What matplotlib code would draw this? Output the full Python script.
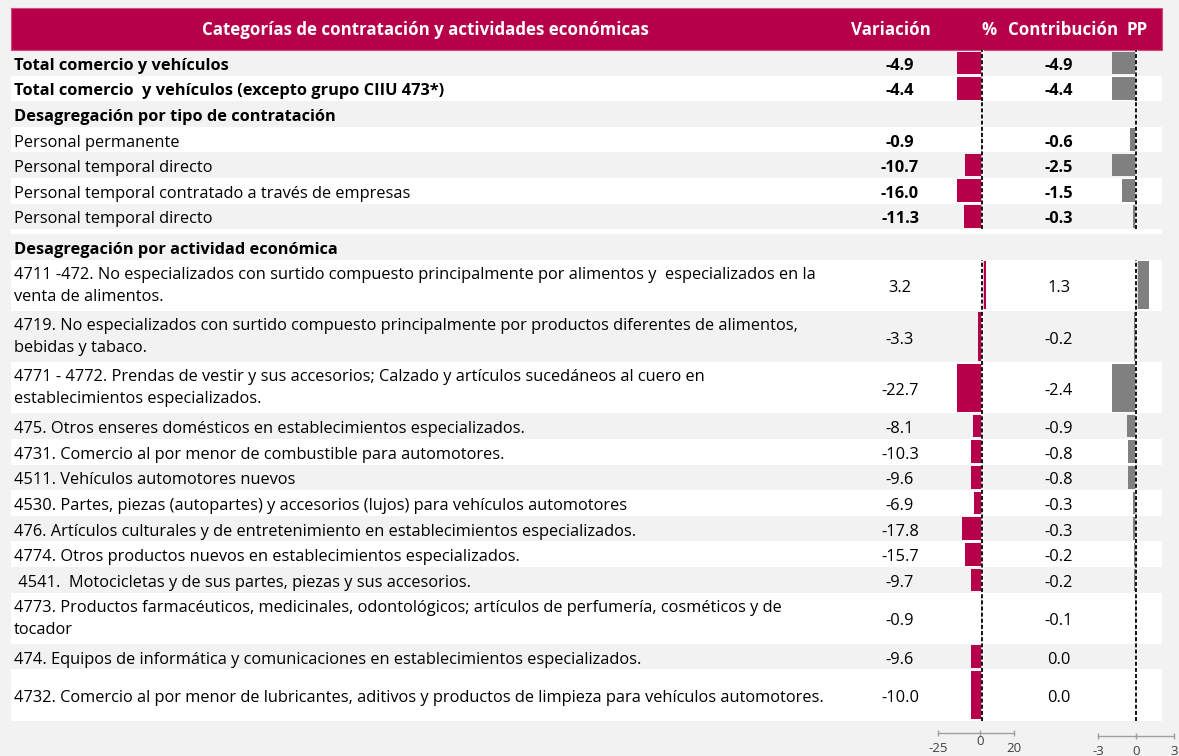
import matplotlib
matplotlib.use("Agg")
import matplotlib.pyplot as plt
from matplotlib.patches import Rectangle

# ---------------- data ----------------
header_title = "Categorías de contratación y actividades económicas"
header_var = "Variación"
header_pct = "%"
header_contrib = "Contribución"
header_pp = "PP"

total_labels = ["Total comercio y vehículos",
                "Total comercio  y vehículos (excepto grupo CIIU 473*)"]
total_var = [-4.9, -4.4]
total_pp = [-4.9, -4.4]

section1 = "Desagregación por tipo de contratación"
contract_labels = ["Personal permanente",
                   "Personal temporal directo",
                   "Personal temporal contratado a través de empresas",
                   "Personal temporal directo"]
contract_var = [-0.9, -10.7, -16.0, -11.3]
contract_pp = [-0.6, -2.5, -1.5, -0.3]

section2 = "Desagregación por actividad económica"
activity_labels = [
    "4711 -472. No especializados con surtido compuesto principalmente por alimentos y  especializados en la\nventa de alimentos.",
    "4719. No especializados con surtido compuesto principalmente por productos diferentes de alimentos,\nbebidas y tabaco.",
    "4771 - 4772. Prendas de vestir y sus accesorios; Calzado y artículos sucedáneos al cuero en\nestablecimientos especializados.",
    "475. Otros enseres domésticos en establecimientos especializados.",
    "4731. Comercio al por menor de combustible para automotores.",
    "4511. Vehículos automotores nuevos",
    "4530. Partes, piezas (autopartes) y accesorios (lujos) para vehículos automotores",
    "476. Artículos culturales y de entretenimiento en establecimientos especializados.",
    "4774. Otros productos nuevos en establecimientos especializados.",
    " 4541.  Motocicletas y de sus partes, piezas y sus accesorios.",
    "4773. Productos farmacéuticos, medicinales, odontológicos; artículos de perfumería, cosméticos y de\ntocador",
    "474. Equipos de informática y comunicaciones en establecimientos especializados.",
    "4732. Comercio al por menor de lubricantes, aditivos y productos de limpieza para vehículos automotores.",
]
activity_var = [3.2, -3.3, -22.7, -8.1, -10.3, -9.6, -6.9, -17.8, -15.7, -9.7, -0.9, -9.6, -10.0]
activity_pp = [1.3, -0.2, -2.4, -0.9, -0.8, -0.8, -0.3, -0.3, -0.2, -0.2, -0.1, 0.0, 0.0]

var_axis_ticks = [-25, 0, 20]
pp_axis_ticks = [-3, 0, 3]

# ---------------- style / layout ----------------
W, H = 1179, 756
BG = "#F2F2F2"
CRIMSON = "#B7004A"
GRAYBAR = "#808080"
FONT = "Open Sans"
plt.rcParams["font.family"] = [FONT, "DejaVu Sans"]

fig = plt.figure(figsize=(W / 100, H / 100), dpi=100, facecolor=BG)
ax0 = fig.add_axes([0, 0, 1, 1])
ax0.set_xlim(0, W)
ax0.set_ylim(H, 0)
ax0.axis("off")

# fit font size to reference text width
renderer = fig.canvas.get_renderer()
probe = ax0.text(0, 0, "Personal temporal contratado a través de empresas", fontsize=10)
wpx = probe.get_window_extent(renderer).width
probe.remove()
FS = 10 * 395.0 / wpx
probe = ax0.text(0, 0, header_title, fontsize=10, fontweight="bold")
wpx = probe.get_window_extent(renderer).width
probe.remove()
FSH = 10 * 445.0 / wpx

LEFT, RIGHT = 11, 1162
U = 25.6  # single row height in px
DY = 3.0  # text offset (Excel bottom-ish alignment)

y = 50.0
def add_row(h, white):
    global y
    top = y
    y += h
    if white:
        ax0.add_patch(Rectangle((LEFT, top), RIGHT - LEFT, h, facecolor="white", edgecolor="none", zorder=0))
    return top, top + h

# header
ax0.add_patch(Rectangle((LEFT, 8), RIGHT - LEFT, 42, facecolor=CRIMSON, edgecolor="#D04C7E", lw=0.8, zorder=1))
for txt, xc in [(header_title, 425), (header_var, 891), (header_pct, 989),
                (header_contrib, 1063), (header_pp, 1137)]:
    ax0.text(xc, 30, txt, color="white", fontsize=FSH, fontweight="bold",
             ha="center", va="center", zorder=2)

VX, PX = 900, 1059
white_flag = False
total_rows = []
for lab, v, p in zip(total_labels, total_var, total_pp):
    t, b = add_row(U, white_flag)
    c = (t + b) / 2
    ax0.text(14, c + DY, lab, fontsize=FS, fontweight="bold", va="center", ha="left")
    ax0.text(VX, c + DY, f"{v:.1f}", fontsize=FS, fontweight="bold", va="center", ha="center")
    ax0.text(PX, c + DY, f"{p:.1f}", fontsize=FS, fontweight="bold", va="center", ha="center")
    total_rows.append((t, b))
    white_flag = not white_flag

t, b = add_row(U, white_flag)
ax0.text(14, (t + b) / 2 + DY, section1, fontsize=FS, fontweight="bold", va="center", ha="left")
white_flag = not white_flag

contract_rows = []
for lab, v, p in zip(contract_labels, contract_var, contract_pp):
    t, b = add_row(U, white_flag)
    c = (t + b) / 2
    ax0.text(14, c + DY, lab, fontsize=FS, va="center", ha="left")
    ax0.text(VX, c + DY, f"{v:.1f}", fontsize=FS, fontweight="bold", va="center", ha="center")
    ax0.text(PX, c + DY, f"{p:.1f}", fontsize=FS, fontweight="bold", va="center", ha="center")
    contract_rows.append((t, b))
    white_flag = not white_flag

add_row(5, True)
t, b = add_row(U, False)
ax0.text(14, (t + b) / 2 + DY, section2, fontsize=FS, fontweight="bold", va="center", ha="left")

activity_rows = []
white_flag = True
for i, (lab, v, p) in enumerate(zip(activity_labels, activity_var, activity_pp)):
    two = ("\n" in lab) or i == len(activity_labels) - 1
    h = 2 * U if two else U
    t, b = add_row(h, white_flag)
    c = (t + b) / 2
    if "\n" in lab:
        ax0.text(14, c + 0.5, lab, fontsize=FS, va="center", ha="left", linespacing=1.5)
    else:
        ax0.text(14, c + DY, lab, fontsize=FS, va="center", ha="left")
    ax0.text(VX, c + DY, f"{v:.1f}", fontsize=FS, va="center", ha="center")
    ax0.text(PX, c + DY, f"{p:.1f}", fontsize=FS, va="center", ha="center")
    activity_rows.append((t, b))
    white_flag = not white_flag


def bar_axes(x0, x1, y0, y1, lim):
    a = fig.add_axes([x0 / W, 1 - y1 / H, (x1 - x0) / W, (y1 - y0) / H])
    a.set_xlim(-lim, lim)
    a.set_ylim(y1, y0)
    a.axis("off")
    a.patch.set_alpha(0)
    return a


def draw_bars(a, rws, vals, color):
    cs = [(t + b) / 2 for t, b in rws]
    hs = [(b - t) - 3 for t, b in rws]
    a.barh(cs, vals, height=hs, color=color, zorder=2)
    a.axvline(0, color="white", lw=1.8, zorder=3)
    a.axvline(0, color="black", lw=1.3, ls=(0, (2.2, 1.2)), zorder=4)


# Variación % bars
a = bar_axes(957, 1007, total_rows[0][0], total_rows[-1][1], 4.4)
draw_bars(a, total_rows, total_var, CRIMSON)
a = bar_axes(957, 1007, total_rows[-1][1], contract_rows[-1][1], 16.0)
draw_bars(a, contract_rows, contract_var, CRIMSON)
a = bar_axes(957, 1007, activity_rows[0][0], activity_rows[-1][1], 22.7)
draw_bars(a, activity_rows, activity_var, CRIMSON)

# Contribución PP bars
a = bar_axes(1112, 1160, total_rows[0][0], total_rows[-1][1], 4.4)
draw_bars(a, total_rows, total_pp, GRAYBAR)
a = bar_axes(1112, 1160, total_rows[-1][1], contract_rows[-1][1], 2.5)
draw_bars(a, contract_rows, contract_pp, GRAYBAR)
a = bar_axes(1112, 1160, activity_rows[0][0], activity_rows[-1][1], 2.4)
draw_bars(a, activity_rows, activity_pp, GRAYBAR)


def scale_axes(x0, x1, yline, ticks, pads):
    a = fig.add_axes([x0 / W, 1 - yline / H, (x1 - x0) / W, 0.001])
    a.set_xlim(ticks[0], ticks[-1])
    a.set_facecolor("none")
    for s in ["top", "left", "right"]:
        a.spines[s].set_visible(False)
    a.spines["bottom"].set_color("#A0A0A0")
    a.spines["bottom"].set_linewidth(1.0)
    a.set_yticks([])
    a.set_xticks(ticks)
    a.set_xticklabels([str(t) for t in ticks])
    a.tick_params(axis="x", direction="inout", length=5, width=1.0, color="#A0A0A0",
                  labelsize=9.5, labelcolor="#404040")
    for tk, pd in zip(a.xaxis.get_major_ticks(), pads):
        tk.set_pad(pd)
    return a


scale_axes(938, 1014, 733, var_axis_ticks, [4, -1, 4])
scale_axes(1098, 1174, 736, pp_axis_ticks, [4, 4, 4])

fig.savefig("out.png", dpi=100, facecolor=BG)
